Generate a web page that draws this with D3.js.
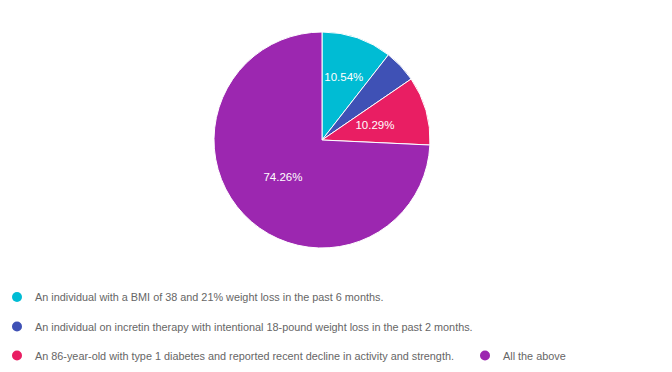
<!DOCTYPE html>
<html><head><meta charset="utf-8">
<script src="https://cdn.jsdelivr.net/npm/d3@7"></script>
<style>html,body{margin:0;padding:0;background:#fff;}svg{display:block;}</style>
</head><body>
<svg id="chart" width="672" height="372"></svg>
<script>
const categories = [
  "An individual with a BMI of 38 and 21% weight loss in the past 6 months.",
  "An individual on incretin therapy with intentional 18-pound weight loss in the past 2 months.",
  "An 86-year-old with type 1 diabetes and reported recent decline in activity and strength.",
  "All the above"
];
const values = [10.54, 4.91, 10.29, 74.26];
const colors = ["#00bcd4", "#3f51b5", "#e91e63", "#9c27b0"];

const svg = d3.select("#chart");
const cx = 322, cy = 140, R = 108;
const font = "'Liberation Sans', Arial, sans-serif";

const pie = d3.pie().sort(null).value(d => d)(values);
const arc = d3.arc().innerRadius(0).outerRadius(R);
const g = svg.append("g").attr("transform", `translate(${cx},${cy})`);
g.selectAll("path").data(pie).join("path")
  .attr("d", arc).attr("fill", (d, i) => colors[i])
  .attr("stroke", "#fff").attr("stroke-width", 1);

const total = d3.sum(values);
const fmt = v => (v / total * 100).toFixed(2) + "%";
const fs = 11.5;
g.selectAll("text.lbl").data(pie).join("text")
  .attr("class", "lbl")
  .attr("font-family", font).attr("font-size", fs).attr("fill", "#fff")
  .attr("text-anchor", "middle").attr("dominant-baseline", "central")
  .text(d => fmt(d.data))
  .each(function (d) {
    const w = this.getComputedTextLength(), h = fs + 1;
    const mid = (d.startAngle + d.endAngle) / 2;
    const pad = 0.03;
    const inside = (x, y) => {
      let a = Math.atan2(x, -y); if (a < 0) a += 2 * Math.PI;
      return a > d.startAngle + pad && a < d.endAngle - pad && Math.hypot(x, y) < R - 4;
    };
    let r = R * 0.5, x, y;
    for (; r < R * 0.85; r += 1) {
      x = Math.sin(mid) * r; y = -Math.cos(mid) * r;
      const ok = [[-w/2,-h/2],[w/2,-h/2],[-w/2,h/2],[w/2,h/2]].every(([dx, dy]) => inside(x + dx, y + dy));
      if (ok) break;
    }
    d3.select(this).attr("x", x).attr("y", y);
    if (d.endAngle - d.startAngle < 0.4 && r >= R * 0.85 - 1) d3.select(this).remove();
  });

// legend
const legendPos = [[17, 297], [17, 326.5], [17, 355.5], [485, 355.5]];
const lg = svg.append("g");
categories.forEach((c, i) => {
  const [x, y] = legendPos[i];
  lg.append("circle").attr("cx", x).attr("cy", y).attr("r", 5).attr("fill", colors[i]);
  lg.append("text").attr("x", x + 18).attr("y", y).attr("dominant-baseline", "central")
    .attr("font-family", font).attr("font-size", 10.85).attr("fill", "#666").text(c);
});
</script>
</body></html>
